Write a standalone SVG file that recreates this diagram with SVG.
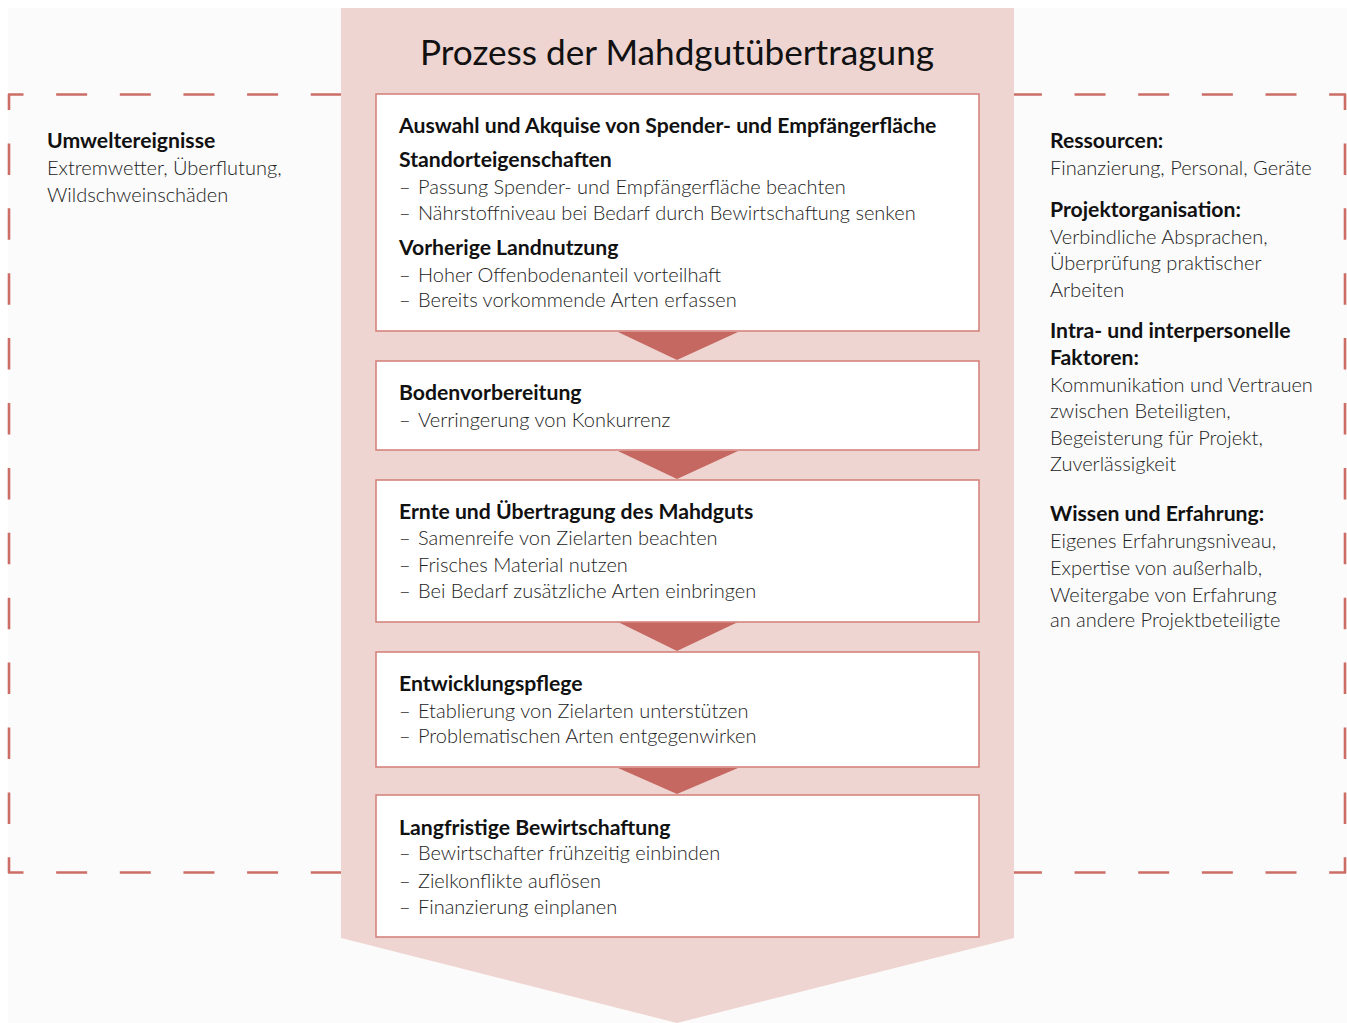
<svg xmlns="http://www.w3.org/2000/svg" width="1347" height="1023" viewBox="0 0 1347 1023">
  <style>
    .h { font-family: Lato, "Open Sans", "Liberation Sans", sans-serif; font-weight: 700; font-size: 21.2px; fill: #111; }
    .b { font-family: Lato, "Open Sans", "Liberation Sans", sans-serif; font-weight: 300; font-size: 20px; fill: #222; }
    .title { font-family: Lato, "Open Sans", "Liberation Sans", sans-serif; font-weight: 400; font-size: 35.2px; fill: #111; }
    .box { fill: #ffffff; stroke: #d5847e; stroke-width: 1.6; }
    .step { fill: #c66862; }
    .dash { fill: none; stroke: #cc6d66; stroke-width: 2.6; }
    .dh { stroke-dasharray: 31 32.65; stroke-dashoffset: 15.5; }
    .dv { stroke-dasharray: 31.5 33.4; stroke-dashoffset: 15.5; }
  </style>

  <!-- page -->
  <rect x="0" y="0" width="1347" height="1023" fill="#ffffff"/>
  <rect x="8" y="8" width="1339" height="1015" fill="#fbfbfb"/>

  <!-- dashed frame of influencing factors -->
  <g id="frame">
    <line class="dash dh" x1="8" y1="94.5" x2="1346" y2="94.5"/>
    <line class="dash dh" x1="8" y1="872.5" x2="1346" y2="872.5"/>
    <line class="dash dv" x1="9" y1="94" x2="9" y2="873"/>
    <line class="dash dv" x1="1345" y1="94" x2="1345" y2="873"/>
  </g>

  <!-- large process arrow -->
  <g id="process">
    <polygon points="341,8 1014,8 1014,938 677,1023 341,938" fill="#efd5d1"/>
    <text class="title" x="677" y="65" text-anchor="middle">Prozess der Mahdgutübertragung</text>
  </g>

  <!-- step connectors -->
  <g id="connectors">
    <polygon class="step" points="618,332 738,332 677,360"/>
    <polygon class="step" points="618,451 738,451 677,479"/>
    <polygon class="step" points="618,622 738,622 677,651"/>
    <polygon class="step" points="618,768 738,768 677,794"/>
  </g>

  <g id="node-auswahl">
    <rect class="box" x="376" y="94" width="603" height="237"/>
    <text class="h" x="399" y="133">Auswahl und Akquise von Spender- und Empfängerfläche</text>
    <text class="h" x="399" y="167">Standorteigenschaften</text>
    <text class="b" y="194"><tspan x="399">–</tspan><tspan x="418">Passung Spender- und Empfängerfläche beachten</tspan></text>
    <text class="b" y="220"><tspan x="399">–</tspan><tspan x="418">Nährstoffniveau bei Bedarf durch Bewirtschaftung senken</tspan></text>
    <text class="h" x="399" y="255">Vorherige Landnutzung</text>
    <text class="b" y="282"><tspan x="399">–</tspan><tspan x="418">Hoher Offenbodenanteil vorteilhaft</tspan></text>
    <text class="b" y="307"><tspan x="399">–</tspan><tspan x="418">Bereits vorkommende Arten erfassen</tspan></text>
  </g>

  <g id="node-boden">
    <rect class="box" x="376" y="361" width="603" height="89"/>
    <text class="h" x="399" y="400">Bodenvorbereitung</text>
    <text class="b" y="427"><tspan x="399">–</tspan><tspan x="418">Verringerung von Konkurrenz</tspan></text>
  </g>

  <g id="node-ernte">
    <rect class="box" x="376" y="480" width="603" height="142"/>
    <text class="h" x="399" y="519">Ernte und Übertragung des Mahdguts</text>
    <text class="b" y="545"><tspan x="399">–</tspan><tspan x="418">Samenreife von Zielarten beachten</tspan></text>
    <text class="b" y="572"><tspan x="399">–</tspan><tspan x="418">Frisches Material nutzen</tspan></text>
    <text class="b" y="598"><tspan x="399">–</tspan><tspan x="418">Bei Bedarf zusätzliche Arten einbringen</tspan></text>
  </g>

  <g id="node-pflege">
    <rect class="box" x="376" y="652" width="603" height="115"/>
    <text class="h" x="399" y="691">Entwicklungspflege</text>
    <text class="b" y="718"><tspan x="399">–</tspan><tspan x="418">Etablierung von Zielarten unterstützen</tspan></text>
    <text class="b" y="743"><tspan x="399">–</tspan><tspan x="418">Problematischen Arten entgegenwirken</tspan></text>
  </g>

  <g id="node-bewirtschaftung">
    <rect class="box" x="376" y="795" width="603" height="142"/>
    <text class="h" x="399" y="835">Langfristige Bewirtschaftung</text>
    <text class="b" y="860"><tspan x="399">–</tspan><tspan x="418">Bewirtschafter frühzeitig einbinden</tspan></text>
    <text class="b" y="888"><tspan x="399">–</tspan><tspan x="418">Zielkonflikte auflösen</tspan></text>
    <text class="b" y="914"><tspan x="399">–</tspan><tspan x="418">Finanzierung einplanen</tspan></text>
  </g>

  <g id="external-factors">
    <text class="h" x="47" y="148">Umweltereignisse</text>
    <text class="b" x="47" y="175">Extremwetter, Überflutung,</text>
    <text class="b" x="47" y="202">Wildschweinschäden</text>
  </g>

  <g id="internal-factors">
    <text class="h" x="1050" y="148">Ressourcen:</text>
    <text class="b" x="1050" y="175">Finanzierung, Personal, Geräte</text>
    <text class="h" x="1050" y="217">Projektorganisation:</text>
    <text class="b" x="1050" y="244">Verbindliche Absprachen,</text>
    <text class="b" x="1050" y="270">Überprüfung praktischer</text>
    <text class="b" x="1050" y="297">Arbeiten</text>
    <text class="h" x="1050" y="338">Intra- und interpersonelle</text>
    <text class="h" x="1050" y="365">Faktoren:</text>
    <text class="b" x="1050" y="392">Kommunikation und Vertrauen</text>
    <text class="b" x="1050" y="418">zwischen Beteiligten,</text>
    <text class="b" x="1050" y="445">Begeisterung für Projekt,</text>
    <text class="b" x="1050" y="471">Zuverlässigkeit</text>
    <text class="h" x="1050" y="521">Wissen und Erfahrung:</text>
    <text class="b" x="1050" y="548">Eigenes Erfahrungsniveau,</text>
    <text class="b" x="1050" y="575">Expertise von außerhalb,</text>
    <text class="b" x="1050" y="602">Weitergabe von Erfahrung</text>
    <text class="b" x="1050" y="627">an andere Projektbeteiligte</text>
  </g>
</svg>
